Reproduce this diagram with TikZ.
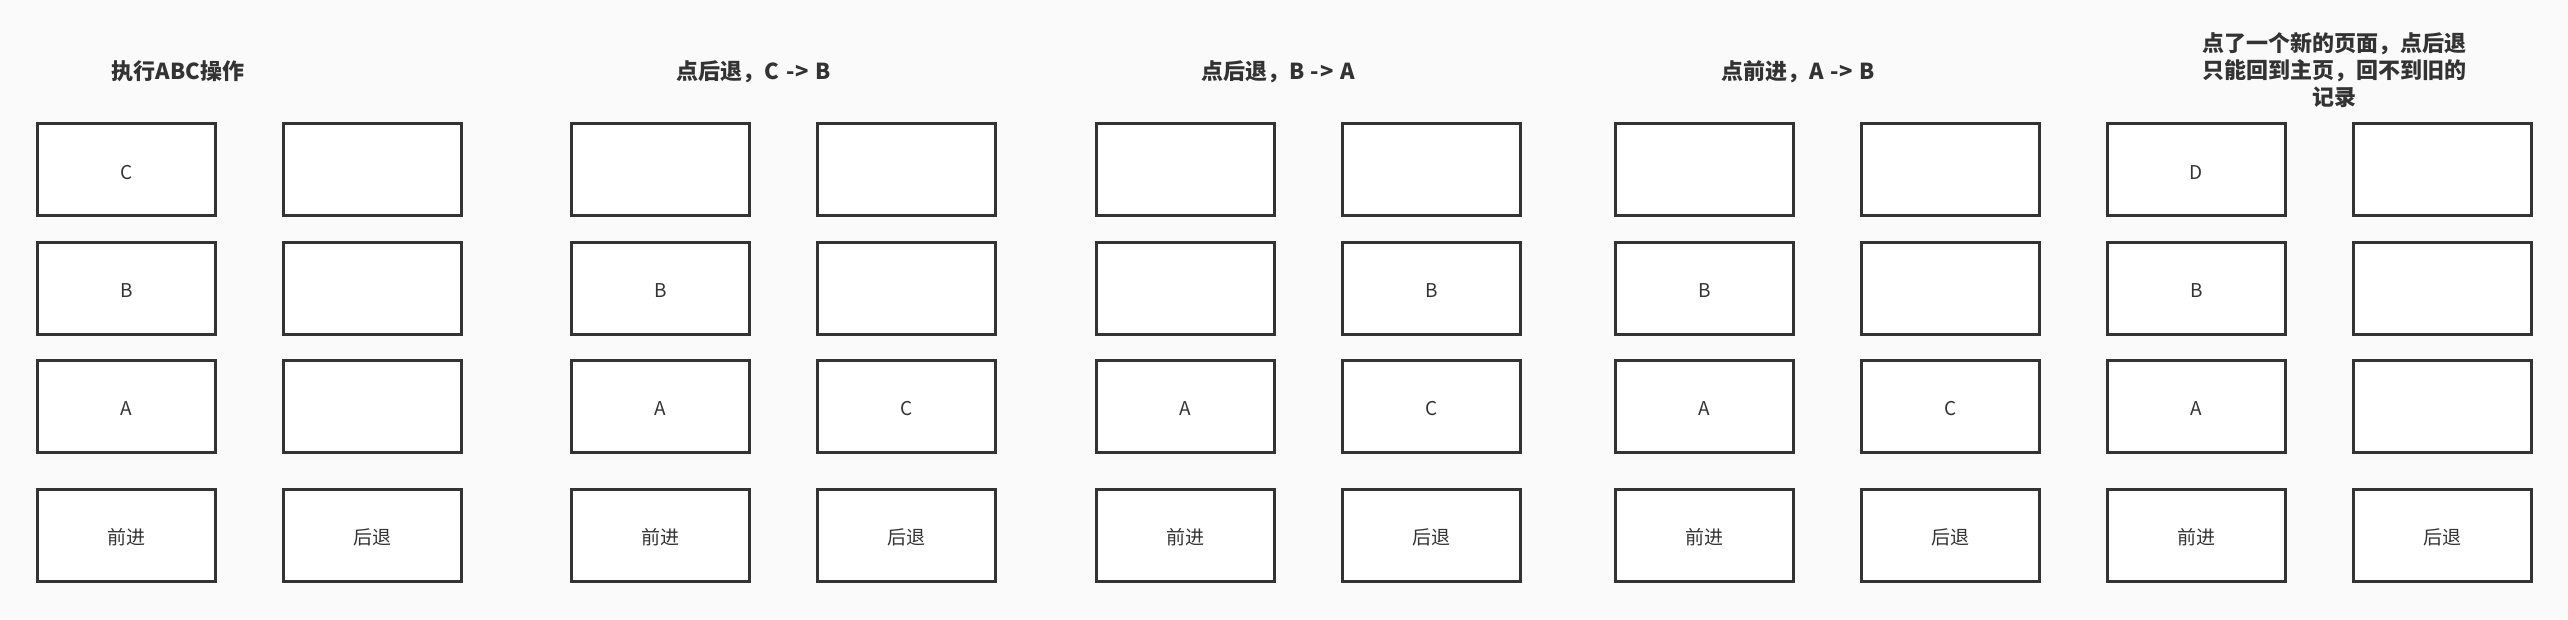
\documentclass[tikz,border=0pt]{standalone}
\usepackage{fontspec}
\newfontfamily\cjk{Noto Sans CJK SC}
\definecolor{bg}{HTML}{FAFAFA}
\definecolor{ink}{HTML}{333333}
\newcommand{\arrowtxt}{\hspace{0.3em}{-}\hspace{0.05em}{>}\hspace{0.3em}}
\tikzset{
  cell/.style={draw=ink, fill=white, line width=3pt, minimum width=178pt, minimum height=92pt, inner sep=0pt, outer sep=0pt, text=ink, text height=19pt, text depth=0pt, font=\cjk\fontsize{19pt}{22pt}\selectfont},
  title/.style={text=ink, align=center, inner sep=0pt, font=\cjk\bfseries\fontsize{22pt}{27pt}\selectfont}
}
\begin{document}
\begin{tikzpicture}[x=1pt,y=-1pt]
\fill[bg] (0,0) rectangle (2568,619);
\useasboundingbox (0,0) rectangle (2568,619);
% titles
\node[title] (t1) at (178,71.5) {执行ABC操作};
\node[title] (t2) at (754,71.5) {点后退，C\arrowtxt B};
\node[title] (t3) at (1278,71.5) {点后退，B\arrowtxt A};
\node[title] (t4) at (1798,71.5) {点前进，A\arrowtxt B};
\node[title] (t5) at (2334,70) {点了一个新的页面，点后退\\只能回到主页，回不到旧的\\记录};
% group 1
\node[cell] (g1l1) at (126.3,169.5) {C};
\node[cell] (g1l2) at (126.3,288) {B};
\node[cell] (g1l3) at (126.3,406) {A};
\node[cell] (g1l4) at (126.3,535) {前进};
\node[cell] (g1r1) at (372.3,169.5) {};
\node[cell] (g1r2) at (372.3,288) {};
\node[cell] (g1r3) at (372.3,406) {};
\node[cell] (g1r4) at (372.3,535) {后退};
% group 2
\node[cell] (g2l1) at (660.5,169.5) {};
\node[cell] (g2l2) at (660.5,288) {B};
\node[cell] (g2l3) at (660.5,406) {A};
\node[cell] (g2l4) at (660.5,535) {前进};
\node[cell] (g2r1) at (906.5,169.5) {};
\node[cell] (g2r2) at (906.5,288) {};
\node[cell] (g2r3) at (906.5,406) {C};
\node[cell] (g2r4) at (906.5,535) {后退};
% group 3
\node[cell] (g3l1) at (1185.5,169.5) {};
\node[cell] (g3l2) at (1185.5,288) {};
\node[cell] (g3l3) at (1185.5,406) {A};
\node[cell] (g3l4) at (1185.5,535) {前进};
\node[cell] (g3r1) at (1431.5,169.5) {};
\node[cell] (g3r2) at (1431.5,288) {B};
\node[cell] (g3r3) at (1431.5,406) {C};
\node[cell] (g3r4) at (1431.5,535) {后退};
% group 4
\node[cell] (g4l1) at (1704.5,169.5) {};
\node[cell] (g4l2) at (1704.5,288) {B};
\node[cell] (g4l3) at (1704.5,406) {A};
\node[cell] (g4l4) at (1704.5,535) {前进};
\node[cell] (g4r1) at (1950.5,169.5) {};
\node[cell] (g4r2) at (1950.5,288) {};
\node[cell] (g4r3) at (1950.5,406) {C};
\node[cell] (g4r4) at (1950.5,535) {后退};
% group 5
\node[cell] (g5l1) at (2196.5,169.5) {D};
\node[cell] (g5l2) at (2196.5,288) {B};
\node[cell] (g5l3) at (2196.5,406) {A};
\node[cell] (g5l4) at (2196.5,535) {前进};
\node[cell] (g5r1) at (2442.5,169.5) {};
\node[cell] (g5r2) at (2442.5,288) {};
\node[cell] (g5r3) at (2442.5,406) {};
\node[cell] (g5r4) at (2442.5,535) {后退};
\end{tikzpicture}
\end{document}
